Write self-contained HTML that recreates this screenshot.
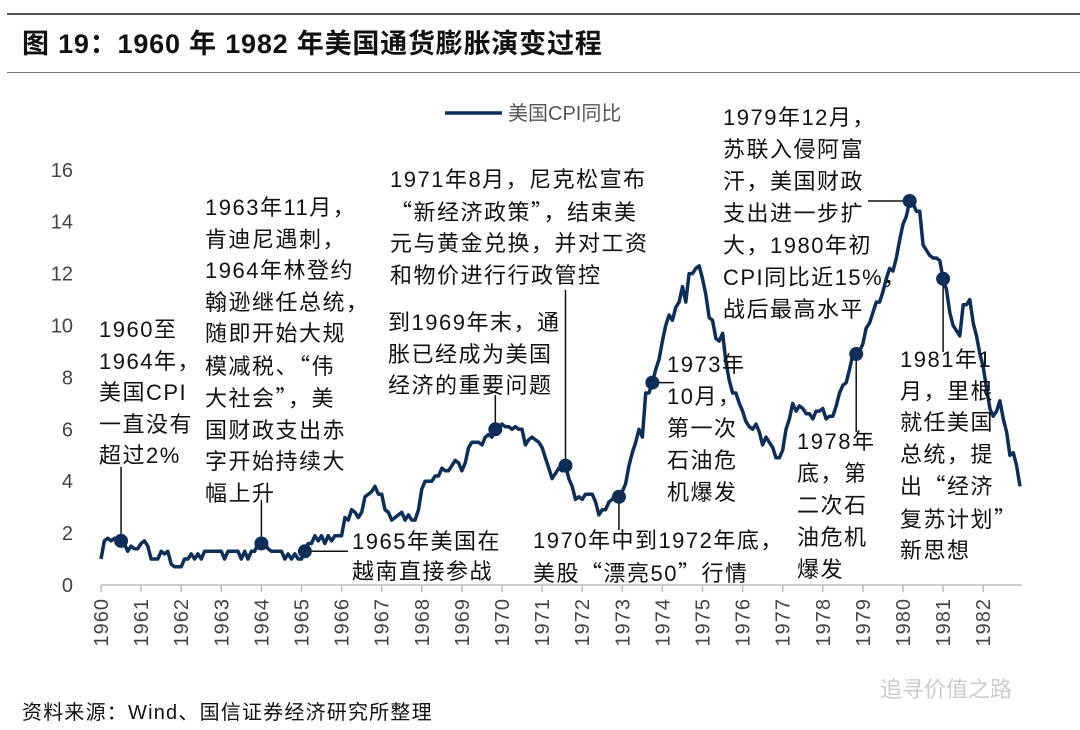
<!DOCTYPE html>
<html><head><meta charset="utf-8"><style>
body{margin:0;background:#fff;}
#root{position:relative;width:1080px;height:730px;overflow:hidden;font-family:"Liberation Sans","Noto Sans CJK SC",sans-serif;}
.ann{position:absolute;font-size:22px;letter-spacing:1.5px;line-height:31.5px;color:#111;white-space:nowrap;}
.q{font-family:"Noto Sans CJK SC",sans-serif;}
</style></head><body>
<div id="root">
<div style="position:absolute;left:7px;top:13px;width:1073px;height:2px;background:#555"></div>
<div style="position:absolute;left:22px;top:22px;font-size:27px;letter-spacing:0.8px;font-weight:bold;color:#111">图 19：1960 年 1982 年美国通货膨胀演变过程</div>
<div style="position:absolute;left:7px;top:72px;width:1073px;height:1px;background:#777"></div>
<svg id="chart" width="1080" height="730" style="position:absolute;left:0;top:0"></svg>
<div class="ann" style="left:99px;top:314px">1960至<br>1964年，<br>美国CPI<br>一直没有<br>超过2%</div>
<div class="ann" style="left:205px;top:192px">1963年11月，<br>肯迪尼遇刺，<br>1964年林登约<br>翰逊继任总统，<br>随即开始大规<br>模减税、<span class="q">“</span>伟<br>大社会<span class="q">”</span>，美<br>国财政支出赤<br>字开始持续大<br>幅上升</div>
<div class="ann" style="left:390px;top:164px">1971年8月，尼克松宣布<br><span class="q">“</span>新经济政策<span class="q">”</span>，结束美<br>元与黄金兑换，并对工资<br>和物价进行行政管控</div>
<div class="ann" style="left:388px;top:307px">到1969年末，通<br>胀已经成为美国<br>经济的重要问题</div>
<div class="ann" style="left:352px;top:527px;line-height:30px">1965年美国在<br>越南直接参战</div>
<div class="ann" style="left:533px;top:525px">1970年中到1972年底，<br>美股<span class="q">“</span>漂亮50<span class="q">”</span>行情</div>
<div class="ann" style="left:667px;top:349px;line-height:32px">1973年<br>10月，<br>第一次<br>石油危<br>机爆发</div>
<div class="ann" style="left:723px;top:102px;line-height:32px">1979年12月，<br>苏联入侵阿富<br>汗，美国财政<br>支出进一步扩<br>大，1980年初<br>CPI同比近15%，<br>战后最高水平</div>
<div class="ann" style="left:797px;top:426px;line-height:32px">1978年<br>底，第<br>二次石<br>油危机<br>爆发</div>
<div class="ann" style="left:900px;top:344px;line-height:31.5px">1981年1<br>月，里根<br>就任美国<br>总统，提<br>出<span class="q">“</span>经济<br>复苏计划<span class="q">”</span><br>新思想</div>
<div style="position:absolute;left:22px;top:696px;font-size:20px;letter-spacing:1.2px;color:#111">资料来源：Wind、国信证券经济研究所整理</div>
<div style="position:absolute;left:880px;top:672px;font-size:22px;color:#ccc">追寻价值之路</div>
</div>
<script>
const years=['1960','1961','1962','1963','1964','1965','1966','1967','1968','1969','1970','1971','1972','1973','1974','1975','1976','1977','1978','1979','1980','1981','1982'];
const yTicks=[0,2,4,6,8,10,12,14,16];
const cpi=[
1.0,1.7,1.8,1.7,1.8,1.7,1.7,1.6,1.3,1.5,1.4,1.4,
1.6,1.7,1.5,1.0,1.0,1.0,1.3,1.2,1.3,0.8,0.7,0.7,
0.7,1.0,1.0,1.2,1.0,1.2,1.0,1.3,1.3,1.3,1.3,1.3,
1.3,1.0,1.3,1.3,1.3,1.3,1.0,1.3,1.0,1.3,1.3,1.6,
1.6,1.6,1.4,1.3,1.3,1.3,1.3,1.0,1.2,1.0,1.2,1.0,
1.0,1.3,1.6,1.6,1.9,1.7,1.9,1.6,1.9,1.7,1.9,1.9,
1.9,2.6,2.5,2.9,2.8,2.6,2.8,3.4,3.5,3.6,3.8,3.5,
3.5,2.9,2.8,2.5,2.6,2.7,2.8,2.5,2.7,2.5,2.5,2.9,
3.7,4.0,4.0,4.0,4.2,4.2,4.5,4.4,4.4,4.6,4.8,4.7,
4.4,4.7,5.3,5.5,5.5,5.5,5.4,5.7,5.8,5.7,6.0,6.1,
6.2,6.1,6.1,6.0,6.1,6.0,6.0,5.4,5.6,5.7,5.6,5.5,
5.3,4.9,4.5,4.1,4.3,4.5,4.4,4.6,4.1,3.8,3.3,3.4,
3.3,3.5,3.5,3.5,3.2,2.7,2.9,2.9,3.2,3.3,3.5,3.4,
3.6,3.9,4.6,5.1,5.5,6.0,5.7,7.4,7.4,7.8,8.3,8.7,
9.4,10.0,10.4,10.2,10.7,10.9,11.5,10.9,12.0,12.0,12.2,12.3,
11.8,11.2,10.3,10.2,9.5,9.4,9.7,8.6,7.9,7.4,7.4,7.0,
6.7,6.3,6.1,6.0,6.2,5.9,5.4,5.7,5.5,5.3,4.9,4.9,
5.2,6.0,6.4,7.0,6.7,6.9,6.8,6.6,6.6,6.4,6.7,6.7,
6.8,6.4,6.5,6.5,6.9,7.4,7.7,7.8,8.3,8.9,8.9,9.0,
9.3,9.9,10.1,10.5,10.9,10.9,11.3,11.8,12.2,12.1,12.6,13.3,
13.9,14.2,14.8,14.7,14.4,14.4,13.1,12.9,12.7,12.6,12.6,12.5,
11.8,11.4,10.5,10.0,9.8,9.6,10.8,10.8,11.0,10.1,9.6,8.9,
8.4,7.6,6.8,6.5,6.7,7.1,6.4,5.9,5.0,5.1,4.6,3.8];
const markerIdx=[6,48,61,118,139,155,165,226,242,252];
const leaderEnds=[[0,467],[0,500],[348,550],[0,395],[0,290],[0,530],[674,382],[0,432],[868,201],[0,352]];
const svg=document.getElementById('chart');const NS='http://www.w3.org/2000/svg';
const X0=101,PY=40.1,Y0=585,PU=25.95;
function xs(i){return X0+i*PY/12;}
function ys(v){return Y0-v*PU;}
function mk(t,a,name){const e=document.createElementNS(NS,t);for(const k in a)e.setAttribute(k,a[k]);


svg.appendChild(e);return e;}
mk('line',{x1:X0,x2:1022,y1:Y0,y2:Y0,stroke:'#bbb','stroke-width':1.5},'x-axis-line');
years.forEach((y,k)=>{const x=X0+k*PY;
mk('line',{x1:x,x2:x,y1:Y0,y2:Y0+7,stroke:'#bbb','stroke-width':1.5},'x-tick');
const t=mk('text',{x:0,y:0,'font-size':20,'letter-spacing':1,fill:'#444','text-anchor':'end','font-family':'Liberation Sans',transform:`translate(${x+7},${Y0+13}) rotate(-90)`},'x-tick-label');t.textContent=y;});
yTicks.forEach(v=>{const t=mk('text',{x:73,y:ys(v)+7,'font-size':20,fill:'#444','text-anchor':'end','font-family':'Liberation Sans'},'y-tick-label');t.textContent=v;});
let d='';cpi.forEach((v,i)=>{d+=(i?'L':'M')+xs(i).toFixed(1)+' '+ys(v).toFixed(1);});
mk('path',{d:d,fill:'none',stroke:'#0d2e57','stroke-width':3.5,'stroke-linejoin':'round'},'cpi-line');
markerIdx.forEach((i,k)=>{const x=xs(i),y=ys(cpi[i]);const e=leaderEnds[k];
const x2=e[0]?e[0]:x;const y2=e[0]?y:e[1];
mk('line',{x1:x,y1:y,x2:x2,y2:y2,stroke:'#111','stroke-width':1.5},'leader-line');
mk('circle',{cx:x,cy:y,r:7,fill:'#0d2e57'},'event-marker');});
mk('line',{x1:445,x2:502,y1:113,y2:113,stroke:'#0d2e57','stroke-width':3.5},'legend-swatch');
const lt=mk('text',{x:508,y:120,'font-size':20,fill:'#555','font-family':'Liberation Sans, Noto Sans CJK SC'},'legend-label');lt.textContent='美国CPI同比';
</script>
</body></html>
